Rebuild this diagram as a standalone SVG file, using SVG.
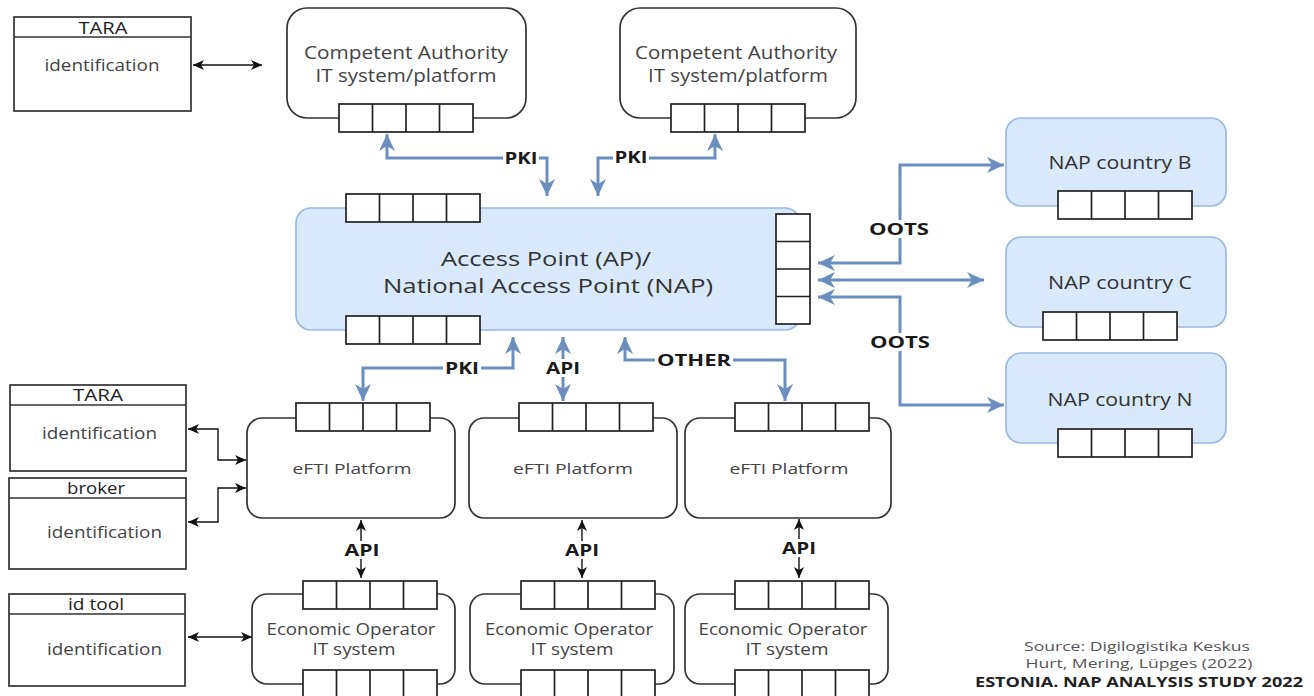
<svg xmlns="http://www.w3.org/2000/svg" xmlns:xlink="http://www.w3.org/1999/xlink" width="1314" height="696" viewBox="0 0 1314 696">
<style>
text{font-family:"Open Sans",Lato,"Liberation Sans",sans-serif;text-anchor:middle;dominant-baseline:central}
.box{fill:#fff;stroke:#333;stroke-width:1.7}
.blue{fill:#dae8fc;stroke:#9ab8e4;stroke-width:1.7}
.lst{fill:#fff;stroke:#333;stroke-width:1.7}
.port{fill:#fff;stroke:#222;stroke-width:1.7}
.t{fill:#444}
.lbl{fill:#1a1a1a;font-weight:bold;font-size:16px}
.bl{fill:none;stroke:#6c8ebf;stroke-width:3;marker-start:url(#ab);marker-end:url(#ab)}
.blk{fill:none;stroke:#111;stroke-width:1.4;marker-start:url(#ak);marker-end:url(#ak)}
.bg{fill:#fff}
.src{fill:#555;font-size:12px}
</style>
<defs>
<marker id="ab" markerUnits="userSpaceOnUse" markerWidth="18" markerHeight="16" refX="17" refY="8" orient="auto-start-reverse" viewBox="0 0 18 16">
<path d="M0,0 L17,8 L0,16 L5,8 Z" fill="#6c8ebf"/>
</marker>
<marker id="ak" markerUnits="userSpaceOnUse" markerWidth="12" markerHeight="10" refX="11" refY="5" orient="auto-start-reverse" viewBox="0 0 12 10">
<path d="M0,0 L11,5 L0,10 L3,5 Z" fill="#111"/>
</marker>
<g id="ph">
<rect class="port" x="0" y="0" width="134" height="28"/>
<path d="M33.5,0V28M67,0V28M100.5,0V28" stroke="#222" stroke-width="1.7"/>
</g>
<g id="pv">
<rect class="port" x="0" y="0" width="34" height="110"/>
<path d="M0,27.5H34M0,55H34M0,82.5H34" stroke="#222" stroke-width="1.7"/>
</g>
</defs>
<rect width="1314" height="696" fill="#fff"/>

<g id="connectors">
<path class="bl" d="M547,196 V158 H387 V134"/>
<path class="bl" d="M598,196 V158 H715 V134"/>
<path class="bl" d="M818,263 H900 V165 H1004"/>
<path class="bl" d="M818,280 H984"/>
<path class="bl" d="M818,297 H900 V405 H1004"/>
<path class="bl" d="M513,337 V368 H363 V401"/>
<path class="bl" d="M563,337 V401"/>
<path class="bl" d="M625,337 V360 H785 V401"/>
<path class="blk" d="M193,65 H262"/>
<path class="blk" d="M188,429 H218 V460 H246"/>
<path class="blk" d="M188,522 H218 V488 H246"/>
<path class="blk" d="M188,637 H252"/>
<path class="blk" d="M361,520 V578"/>
<path class="blk" d="M582,520 V578"/>
<path class="blk" d="M799,519 V578"/>
<rect class="bg" x="503" y="149" width="36" height="18"/>
<text class="lbl" x="521" y="158" textLength="33" lengthAdjust="spacingAndGlyphs">PKI</text>
<rect class="bg" x="613" y="148" width="36" height="18"/>
<text class="lbl" x="631" y="157" textLength="33" lengthAdjust="spacingAndGlyphs">PKI</text>
<rect class="bg" x="867" y="220" width="64" height="18"/>
<text class="lbl" x="899" y="229" textLength="60" lengthAdjust="spacingAndGlyphs">OOTS</text>
<rect class="bg" x="868" y="333" width="64" height="18"/>
<text class="lbl" x="900" y="342" textLength="60" lengthAdjust="spacingAndGlyphs">OOTS</text>
<rect class="bg" x="443" y="359" width="38" height="18"/>
<text class="lbl" x="462" y="368" textLength="34" lengthAdjust="spacingAndGlyphs">PKI</text>
<rect class="bg" x="545" y="359" width="36" height="18"/>
<text class="lbl" x="563" y="368" textLength="34" lengthAdjust="spacingAndGlyphs">API</text>
<rect class="bg" x="655" y="351" width="78" height="18"/>
<text class="lbl" x="694" y="360" textLength="74" lengthAdjust="spacingAndGlyphs">OTHER</text>
<rect class="bg" x="344" y="541" width="36" height="18"/>
<text class="lbl" x="362" y="550" textLength="35" lengthAdjust="spacingAndGlyphs">API</text>
<rect class="bg" x="564" y="541" width="36" height="18"/>
<text class="lbl" x="582" y="550" textLength="34" lengthAdjust="spacingAndGlyphs">API</text>
<rect class="bg" x="781" y="539" width="36" height="18"/>
<text class="lbl" x="799" y="548" textLength="34" lengthAdjust="spacingAndGlyphs">API</text>
</g>

<g id="tara-top">
<rect class="lst" x="14" y="17" width="177" height="94"/>
<path d="M14,37H191" stroke="#333" stroke-width="1.7"/>
<text x="103" y="28" font-size="16" fill="#222" textLength="49" lengthAdjust="spacingAndGlyphs">TARA</text>
<text class="t" x="102" y="65" font-size="15.5" textLength="115" lengthAdjust="spacingAndGlyphs">identification</text>
</g>

<g id="ca1">
<rect class="box" x="287" y="8" width="239" height="110" rx="20"/>
<text class="t" x="406" y="52" font-size="17.5" textLength="204" lengthAdjust="spacingAndGlyphs">Competent Authority</text>
<text class="t" x="406" y="75" font-size="17.5" textLength="181" lengthAdjust="spacingAndGlyphs">IT system/platform</text>
<use xlink:href="#ph" x="339" y="104"/>
</g>

<g id="ca2">
<rect class="box" x="620" y="8" width="236" height="110" rx="20"/>
<text class="t" x="736" y="52" font-size="17.5" textLength="202" lengthAdjust="spacingAndGlyphs">Competent Authority</text>
<text class="t" x="738" y="75" font-size="17.5" textLength="180" lengthAdjust="spacingAndGlyphs">IT system/platform</text>
<use xlink:href="#ph" x="671" y="104"/>
</g>

<g id="nap">
<rect class="blue" x="296" y="208" width="504" height="122" rx="15"/>
<text x="546" y="258" font-size="20" fill="#333" textLength="210" lengthAdjust="spacingAndGlyphs">Access Point (AP)/</text>
<text x="548" y="285" font-size="20" fill="#333" textLength="330" lengthAdjust="spacingAndGlyphs">National Access Point (NAP)</text>
<use xlink:href="#ph" x="346" y="194"/>
<use xlink:href="#ph" x="346" y="316"/>
<use xlink:href="#pv" x="776" y="214"/>
</g>

<g id="nap-b">
<rect class="blue" x="1006" y="118" width="220" height="88" rx="15"/>
<text x="1120" y="162" font-size="17.5" fill="#333" textLength="143" lengthAdjust="spacingAndGlyphs">NAP country B</text>
<use xlink:href="#ph" x="1058" y="191"/>
</g>
<g id="nap-c">
<rect class="blue" x="1006" y="237" width="220" height="90" rx="15"/>
<text x="1120" y="282" font-size="17.5" fill="#333" textLength="144" lengthAdjust="spacingAndGlyphs">NAP country C</text>
<use xlink:href="#ph" x="1043" y="312"/>
</g>
<g id="nap-n">
<rect class="blue" x="1006" y="353" width="220" height="90" rx="15"/>
<text x="1120" y="399" font-size="17.5" fill="#333" textLength="145" lengthAdjust="spacingAndGlyphs">NAP country N</text>
<use xlink:href="#ph" x="1058" y="429"/>
</g>

<g id="efti1">
<rect class="box" x="247" y="418" width="208" height="100" rx="15"/>
<text class="t" x="352" y="468" font-size="15" textLength="119" lengthAdjust="spacingAndGlyphs">eFTI Platform</text>
<use xlink:href="#ph" x="296" y="403"/>
</g>
<g id="efti2">
<rect class="box" x="469" y="418" width="208" height="100" rx="15"/>
<text class="t" x="573" y="468" font-size="15" textLength="120" lengthAdjust="spacingAndGlyphs">eFTI Platform</text>
<use xlink:href="#ph" x="519" y="403"/>
</g>
<g id="efti3">
<rect class="box" x="685" y="418" width="206" height="100" rx="15"/>
<text class="t" x="789" y="468" font-size="15" textLength="119" lengthAdjust="spacingAndGlyphs">eFTI Platform</text>
<use xlink:href="#ph" x="735" y="403"/>
</g>

<g id="tara2">
<rect class="lst" x="10" y="385" width="176" height="86"/>
<path d="M10,405H186" stroke="#333" stroke-width="1.7"/>
<text x="98" y="395" font-size="16" fill="#222" textLength="50" lengthAdjust="spacingAndGlyphs">TARA</text>
<text class="t" x="99.5" y="433" font-size="15.5" textLength="115" lengthAdjust="spacingAndGlyphs">identification</text>
</g>
<g id="broker">
<rect class="lst" x="9" y="478" width="177" height="91"/>
<path d="M9,498H186" stroke="#333" stroke-width="1.7"/>
<text x="96" y="488" font-size="16" fill="#222" textLength="58" lengthAdjust="spacingAndGlyphs">broker</text>
<text class="t" x="104.5" y="532" font-size="15.5" textLength="115" lengthAdjust="spacingAndGlyphs">identification</text>
</g>
<g id="idtool">
<rect class="lst" x="9" y="594" width="176" height="92"/>
<path d="M9,614H185" stroke="#333" stroke-width="1.7"/>
<text x="96" y="604" font-size="16" fill="#222" textLength="56" lengthAdjust="spacingAndGlyphs">id tool</text>
<text class="t" x="104.5" y="649" font-size="15.5" textLength="115" lengthAdjust="spacingAndGlyphs">identification</text>
</g>

<g id="eo1">
<rect class="box" x="252" y="594" width="203" height="90" rx="15"/>
<text class="t" x="351" y="629" font-size="15.5" textLength="169" lengthAdjust="spacingAndGlyphs">Economic Operator</text>
<text class="t" x="354" y="649" font-size="15.5" textLength="83" lengthAdjust="spacingAndGlyphs">IT system</text>
<use xlink:href="#ph" x="303" y="581"/>
<use xlink:href="#ph" x="303" y="670"/>
</g>
<g id="eo2">
<rect class="box" x="470" y="594" width="204" height="90" rx="15"/>
<text class="t" x="569" y="629" font-size="15.5" textLength="168" lengthAdjust="spacingAndGlyphs">Economic Operator</text>
<text class="t" x="572" y="649" font-size="15.5" textLength="83" lengthAdjust="spacingAndGlyphs">IT system</text>
<use xlink:href="#ph" x="521" y="581"/>
<use xlink:href="#ph" x="521" y="670"/>
</g>
<g id="eo3">
<rect class="box" x="685" y="594" width="203" height="90" rx="15"/>
<text class="t" x="783" y="629" font-size="15.5" textLength="169" lengthAdjust="spacingAndGlyphs">Economic Operator</text>
<text class="t" x="787" y="649" font-size="15.5" textLength="83" lengthAdjust="spacingAndGlyphs">IT system</text>
<use xlink:href="#ph" x="735" y="581"/>
<use xlink:href="#ph" x="735" y="670"/>
</g>

<g id="source">
<text class="src" x="1137" y="646" textLength="226" lengthAdjust="spacingAndGlyphs">Source: Digilogistika Keskus</text>
<text class="src" x="1139" y="663" textLength="227" lengthAdjust="spacingAndGlyphs">Hurt, Mering, Lüpges (2022)</text>
<text x="1139" y="681" font-size="14" font-weight="bold" fill="#222" textLength="328" lengthAdjust="spacingAndGlyphs">ESTONIA. NAP ANALYSIS STUDY 2022</text>
</g>
</svg>
